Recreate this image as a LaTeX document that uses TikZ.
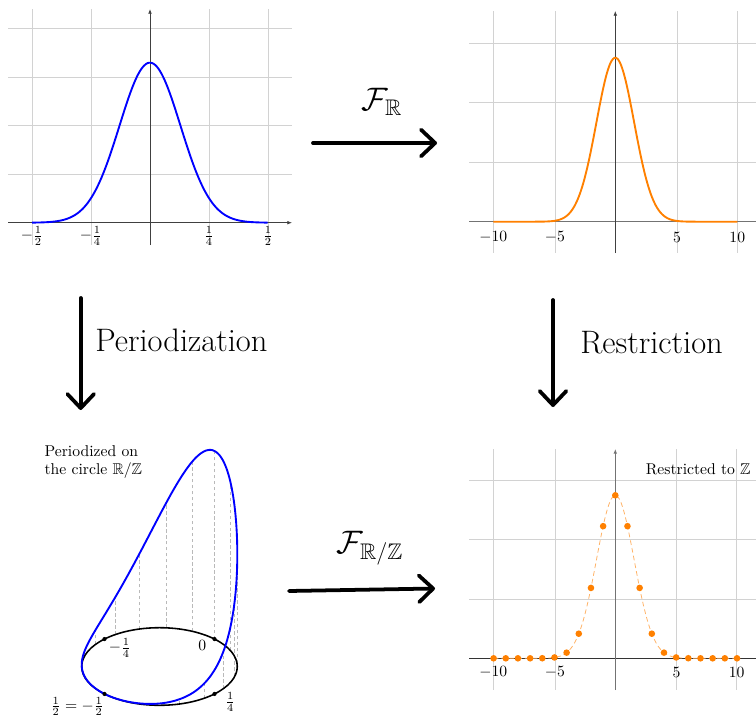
\documentclass[tikz,border=0pt]{standalone}
\usepackage{amsmath,amssymb}
\usetikzlibrary{arrows.meta}
\begin{document}
\begin{tikzpicture}[x=0.638pt,y=-0.638pt,
  gridline/.style={gray!35, line width=0.4pt},
  axisline/.style={black!75, line width=0.5pt},
  axisarrow/.style={axisline, -{Latex[length=3pt,width=2.4pt]}},
  bigarrow/.style={line width=2.4pt, line cap=round, -{Straight Barb[length=9pt,width=17pt,round]}},
  curveblue/.style={blue, line width=1.2pt},
  curveorange/.style={orange, line width=1.2pt},
  dashline/.style={gray!55, line width=0.4pt, dash pattern=on 2.2pt off 1.6pt},
  ticklab/.style={inner sep=1pt},
  bigtext/.style={font=\huge, inner sep=0pt},
]
\useasboundingbox (0,0) rectangle (756,719);

% ---------- top-left: Gaussian on R ----------
\foreach \xx in {32,91,209,268} \draw[gridline] (\xx,9) -- (\xx,245);
\foreach \yy in {28,77,125.5,174} \draw[gridline] (8,\yy) -- (292,\yy);
\draw[axisarrow] (8,222.7) -- (292,222.7);
\draw[axisarrow] (150,245) -- (150,9);
\draw[curveblue] plot[domain=-0.5:0.5,samples=150,smooth] ({150+236*\x},{222.7-160*exp(-30*\x*\x)});
\node[ticklab] (tlA) at (32,236) {$-\frac{1}{2}$};
\node[ticklab] (tlB) at (91,236) {$-\frac{1}{4}$};
\node[ticklab] (tlC) at (209,236) {$\frac{1}{4}$};
\node[ticklab] (tlD) at (268,236) {$\frac{1}{2}$};

% ---------- top-right: Fourier transform ----------
\foreach \xx in {493.3,555,677,737.3} \draw[gridline] (\xx,11) -- (\xx,253);
\foreach \yy in {43.3,102.3,162.3} \draw[gridline] (469,\yy) -- (756,\yy);
\draw[black!55, line width=0.8pt] (469,221.7) -- (756,221.7);
\draw[axisarrow] (615.3,253) -- (615.3,11);
\draw[curveorange] plot[domain=-10:10,samples=150,smooth] ({615.3+12.2*\x},{221.7-164*exp(-0.21*\x*\x)});
\node[ticklab] (trA) at (493.3,237) {$-10$};
\node[ticklab] (trB) at (555,237) {$-5$};
\node[ticklab] (trC) at (677,237) {$5$};
\node[ticklab] (trD) at (737.3,237) {$10$};

% ---------- bottom-right: restricted to Z ----------
\foreach \xx in {493.3,555,676.5,736.7} \draw[gridline] (\xx,449) -- (\xx,690);
\foreach \yy in {480.7,539.3,599.3} \draw[gridline] (469,\yy) -- (756,\yy);
\draw[black!80, line width=0.6pt] (469,658.3) -- (756,658.3);
\draw[black!55, line width=0.8pt, -{Latex[length=3pt,width=2.4pt]}] (615.3,690) -- (615.3,449);
\draw[orange!60, line width=0.5pt, dash pattern=on 3pt off 2pt] plot[domain=-10:10,samples=150,smooth] ({615.3+12.17*\x},{658.3-163*exp(-0.21*\x*\x)});
\foreach \n in {-10,...,10} \fill[orange] ({615.3+12.17*\n},{658.3-163*exp(-0.21*\n*\n)}) circle[radius=3.3];
\node[ticklab] (brA) at (493.3,672) {$-10$};
\node[ticklab] (brB) at (555,672) {$-5$};
\node[ticklab] (brC) at (676.5,672) {$5$};
\node[ticklab] (brD) at (736.7,672) {$10$};
\node[anchor=east, inner sep=0pt] (restr) at (751,469) {Restricted to $\mathbb{Z}$};

% ---------- bottom-left: periodized on the circle ----------
\foreach \k in {0,...,17} {
  \pgfmathsetmacro\ang{45+20*\k}
  \pgfmathsetmacro\tpar{ifthenelse(\k>9,(18-\k)/18,-\k/18)}
  \pgfmathsetmacro\hh{188*exp(-33*\tpar*\tpar)}
  \draw[dashline] ({159.5+77.8*cos(\ang)},{666.5-38.8*sin(\ang)}) -- ++(0,-\hh);
}
\draw[black, line width=1pt] (159.5,666.5) ellipse [x radius=77.8, y radius=38.8];
\draw[curveblue] plot[domain=-0.5:0.5,samples=240,smooth] ({159.5+77.8*cos(45-360*\x)},{666.5-38.8*sin(45-360*\x)-188*exp(-33*\x*\x)});
\foreach \a in {45,135,225,315} \fill ({159.5+77.8*cos(\a)},{666.5-38.8*sin(\a)}) circle[radius=2.1];
\node[ticklab] (c0) at (202.3,645.5) {$0$};
\node[ticklab] (cm) at (120,648) {$-\frac{1}{4}$};
\node[ticklab] (cp) at (230.3,702) {$\frac{1}{4}$};
\node[ticklab] (ch) at (77.2,706.5) {$\frac{1}{2}=-\frac{1}{2}$};
\node[anchor=west, align=left, inner sep=0pt] (perlab) at (44.3,462) {Periodized on\\the circle $\mathbb{R}/\mathbb{Z}$};

% ---------- big arrows ----------
\coordinate (h1s) at (313,143); \coordinate (h1e) at (437,143);
\coordinate (h2s) at (289,591); \coordinate (h2e) at (435,588.5);
\coordinate (v1s) at (80.7,298); \coordinate (v1e) at (80.7,410);
\coordinate (v2s) at (553,300); \coordinate (v2e) at (553,407);
\draw[bigarrow] (h1s) -- (h1e);
\draw[bigarrow] (h2s) -- (h2e);
\draw[bigarrow] (v1s) -- (v1e);
\draw[bigarrow] (v2s) -- (v2e);
\node[bigtext] (fr) at (382,102) {$\mathcal{F}_{\mathbb{R}}$};
\node[bigtext] (frz) at (370,548) {$\mathcal{F}_{\mathbb{R}/\mathbb{Z}}$};
\node[bigtext, anchor=west] (per) at (95,340) {Periodization};
\node[bigtext, anchor=west] (res) at (580,343) {Restriction};
\end{tikzpicture}
\end{document}
